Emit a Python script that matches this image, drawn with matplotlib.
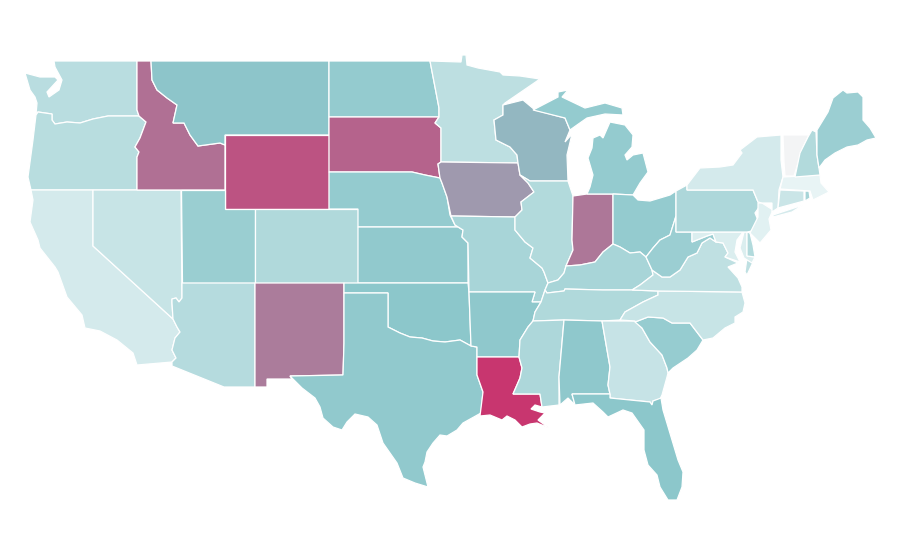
import matplotlib
matplotlib.use("Agg")
import matplotlib.pyplot as plt
from matplotlib.colors import LinearSegmentedColormap, Normalize
from matplotlib.patches import Polygon

# estimated value per state, read from the fill colour (0-100 scale)
states = ["WA", "OR", "CA", "NV", "ID", "MT", "WY", "UT", "CO", "AZ", "NM", "ND",
          "SD", "NE", "KS", "OK", "TX", "MN", "IA", "MO", "AR", "LA", "WI", "IL",
          "IN", "MI", "OH", "KY", "TN", "MS", "AL", "GA", "FL", "SC", "NC", "VA",
          "WV", "MD", "DE", "PA", "NJ", "NY", "CT", "RI", "MA", "VT", "NH", "ME"]
values = [22.5, 23, 12, 17, 76, 41, 87.5, 34.5, 26, 24, 71, 37,
          81, 37, 38, 40, 38, 21, 59, 29, 39, 100, 46.6, 25,
          73, 37, 37, 29, 26, 27, 39, 17.5, 40, 36, 17, 20,
          34, 9, 25, 27, 7, 12, 16, 30, 4, 0, 25, 34]

outlines = {
    "WA": [[(54, 61), (137, 61), (137, 110), (139, 116), (108, 116), (93, 119), (80, 123), (67, 122),
            (55, 124), (52, 120), (52, 114), (38, 112), (36, 115), (37, 103), (35, 97), (30, 90), (25, 73),
            (40, 77), (55, 77), (58, 80), (47, 92), (49, 97), (59, 90), (62, 80), (55, 67)]],
    "OR": [[(36, 115), (38, 112), (52, 114), (52, 120), (55, 124), (67, 122), (80, 123), (93, 119),
            (108, 116), (139, 116), (146, 122), (140, 138), (135, 147), (139, 152), (137, 157), (137, 190),
            (31, 190), (28, 177), (33, 140)]],
    "CA": [[(31, 190), (93, 190), (93, 246), (173, 319), (177, 327), (180, 332), (175, 338), (172, 350),
            (176, 358), (172, 362), (137, 365), (133, 353), (117, 340), (100, 331), (85, 328), (82, 315),
            (67, 297), (58, 272), (55, 267), (40, 248), (38, 240), (30, 222), (33, 200)]],
    "NV": [[(93, 190), (181, 190), (182, 298), (179, 302), (176, 298), (172, 299), (172, 303), (173, 319),
            (93, 246)]],
    "AZ": [[(182, 283), (255, 283), (255, 387), (224, 387), (172, 366), (172, 362), (176, 358), (172, 350),
            (175, 338), (180, 332), (177, 327), (173, 319), (172, 303), (172, 299), (176, 298), (179, 302),
            (182, 298)]],
    "ID": [[(137, 61), (151, 61), (152, 80), (157, 90), (167, 98), (177, 105), (173, 123), (184, 123),
            (190, 135), (198, 146), (220, 143), (225, 145), (225, 190), (137, 190), (137, 157), (139, 152),
            (135, 147), (140, 138), (146, 122), (139, 116), (137, 110)]],
    "MT": [[(151, 61), (329, 61), (329, 135), (225, 135), (225, 145), (220, 143), (198, 146), (190, 135),
            (184, 123), (173, 123), (177, 105), (167, 98), (157, 90), (152, 80)]],
    "WY": [[(225, 135), (329, 135), (329, 209), (225, 209)]],
    "UT": [[(181, 190), (225, 190), (225, 209), (255, 209), (255, 283), (182, 283)]],
    "CO": [[(255, 209), (358, 209), (358, 283), (255, 283)]],
    "NM": [[(255, 283), (344, 283), (344, 343), (343, 375), (290, 376), (292, 379), (267, 379), (267, 387),
            (255, 387)]],
    "ND": [[(329, 61), (430, 61), (435, 87), (439, 108), (439, 117), (329, 117)]],
    "SD": [[(329, 117), (439, 117), (435, 123), (441, 128), (441, 162), (438, 164), (440, 178), (425, 175),
            (412, 172), (329, 172)]],
    "NE": [[(329, 172), (412, 172), (425, 175), (440, 178), (442, 183), (447, 197), (450, 215), (455, 225),
            (458, 227), (358, 227), (358, 209), (329, 209)]],
    "KS": [[(358, 227), (458, 227), (463, 230), (462, 237), (468, 243), (468, 283), (358, 283)]],
    "OK": [[(344, 283), (468, 283), (469, 292), (471, 346), (460, 340), (445, 342), (433, 341), (422, 338),
            (410, 337), (400, 333), (388, 327), (388, 293), (344, 293)]],
    "TX": [[(344, 293), (388, 293), (388, 327), (400, 333), (410, 337), (422, 338), (433, 341), (445, 342),
            (460, 340), (471, 346), (477, 347), (477, 375), (483, 392), (481, 413), (463, 423), (457, 430),
            (447, 436), (440, 435), (433, 443), (427, 452), (425, 462), (423, 467), (428, 487), (415, 483),
            (403, 478), (397, 463), (383, 443), (377, 425), (368, 417), (355, 414), (347, 422), (342, 430),
            (333, 427), (323, 418), (320, 407), (315, 398), (302, 388), (290, 376), (343, 375), (344, 343)]],
    "MN": [[(430, 61), (461, 62), (462, 55), (466, 55), (467, 65), (478, 68), (500, 72), (503, 75), (520, 76),
            (540, 79), (505, 103), (503, 105), (503, 115), (494, 120), (496, 140), (510, 147), (517, 155),
            (518, 163), (441, 162), (441, 128), (435, 123), (439, 117), (439, 108), (435, 87)]],
    "IA": [[(441, 162), (518, 163), (520, 175), (528, 183), (534, 192), (521, 202), (522, 210), (515, 217),
            (451, 216), (447, 197), (442, 183), (440, 178), (438, 164)]],
    "MO": [[(451, 216), (515, 217), (515, 230), (525, 242), (533, 248), (530, 258), (542, 268), (544, 272),
            (548, 283), (545, 290), (541, 302), (532, 302), (535, 292), (469, 292), (468, 243), (462, 237),
            (463, 230), (455, 225)]],
    "AR": [[(469, 292), (535, 292), (532, 302), (541, 302), (535, 312), (533, 321), (528, 327), (520, 340),
            (519, 357), (477, 357), (477, 347), (471, 346)]],
    "LA": [[(477, 357), (519, 357), (522, 368), (520, 378), (513, 394), (540, 394), (542, 407), (535, 405),
            (531, 409), (540, 412), (545, 413), (538, 420), (549, 428), (537, 423), (530, 424), (522, 427),
            (515, 420), (507, 416), (502, 420), (490, 415), (480, 416), (483, 392), (477, 375)]],
    "WI": [[(503, 105), (523, 100), (535, 110), (565, 118), (570, 130), (565, 142), (572, 134), (567, 155),
            (568, 181), (530, 181), (520, 175), (518, 163), (517, 155), (510, 147), (496, 140), (494, 120),
            (503, 115)]],
    "IL": [[(530, 181), (568, 181), (573, 196), (572, 240), (573, 250), (566, 266), (564, 273), (558, 280),
            (548, 283), (544, 272), (542, 268), (530, 258), (533, 248), (525, 242), (515, 230), (515, 217),
            (522, 210), (521, 202), (534, 192), (528, 183), (520, 175)]],
    "IN": [[(573, 196), (587, 194), (613, 194), (613, 244), (603, 252), (595, 262), (580, 265), (566, 266),
            (573, 250), (572, 240)]],
    "MI": [[(587, 194), (613, 194), (633, 195), (640, 183), (648, 172), (643, 153), (633, 155), (627, 160),
            (625, 155), (632, 147), (633, 135), (625, 125), (610, 122), (603, 138), (600, 135), (593, 138),
            (592, 148), (588, 158), (593, 175), (590, 187)],
           [(533, 110), (558, 97), (558, 92), (568, 90), (562, 97), (585, 108), (605, 103), (622, 108),
            (623, 115), (605, 114), (587, 118), (577, 125), (570, 130), (565, 118)]],
    "OH": [[(613, 194), (633, 195), (638, 200), (650, 201), (670, 195), (676, 191), (676, 216), (670, 235),
            (660, 240), (653, 248), (646, 257), (640, 252), (630, 253), (620, 247), (613, 244)]],
    "KY": [[(545, 290), (548, 283), (558, 280), (564, 273), (566, 266), (580, 265), (595, 262), (603, 252),
            (613, 244), (620, 247), (630, 253), (640, 252), (646, 257), (652, 270), (653, 275), (640, 285),
            (632, 290), (603, 290), (565, 289), (564, 291), (547, 293)]],
    "TN": [[(547, 293), (564, 291), (565, 289), (603, 290), (632, 290), (658, 291), (658, 295), (643, 302),
            (625, 312), (620, 320), (602, 321), (564, 320), (533, 321), (535, 312), (541, 302), (545, 290)]],
    "MS": [[(533, 321), (564, 320), (559, 377), (559, 405), (542, 407), (540, 394), (513, 394), (520, 378),
            (522, 368), (519, 357), (520, 340), (528, 327)]],
    "AL": [[(564, 320), (602, 321), (610, 367), (608, 385), (610, 394), (572, 394), (575, 405), (568, 398),
            (560, 405), (559, 377)]],
    "GA": [[(602, 321), (635, 321), (642, 328), (650, 342), (662, 355), (667, 368), (668, 373), (667, 377),
            (662, 395), (660, 399), (653, 401), (652, 405), (650, 402), (610, 398), (610, 394), (608, 385),
            (610, 367)]],
    "FL": [[(572, 394), (610, 394), (610, 398), (650, 402), (652, 405), (653, 401), (661, 398), (663, 410),
            (672, 440), (678, 460), (683, 472), (682, 487), (677, 500), (668, 500), (660, 487), (657, 475),
            (648, 465), (644, 450), (644, 430), (632, 413), (623, 410), (608, 417), (603, 412), (593, 403),
            (575, 405)]],
    "SC": [[(635, 322), (648, 317), (663, 318), (672, 323), (690, 323), (703, 340), (697, 350), (688, 358),
            (673, 368), (668, 373), (667, 368), (662, 355), (650, 342), (642, 328)]],
    "NC": [[(658, 291), (742, 292), (745, 303), (743, 312), (735, 317), (735, 323), (725, 328), (713, 338),
            (703, 340), (690, 323), (672, 323), (663, 318), (648, 317), (635, 322), (635, 321), (620, 320),
            (625, 312), (643, 302), (658, 295)]],
    "VA": [[(632, 290), (640, 285), (653, 275), (652, 270), (662, 277), (670, 277), (680, 270), (688, 257),
            (697, 253), (702, 243), (710, 238), (716, 242), (723, 243), (728, 253), (725, 257), (738, 263),
            (728, 267), (738, 278), (742, 287), (742, 292), (658, 291)],
           [(747, 258), (755, 258), (747, 275), (745, 272)]],
    "WV": [[(676, 216), (676, 232), (692, 232), (692, 242), (707, 236), (713, 234), (716, 242), (710, 238),
            (702, 243), (697, 253), (688, 257), (680, 270), (670, 277), (662, 277), (652, 270), (646, 257),
            (653, 248), (660, 240), (670, 235)]],
    "MD": [[(692, 232), (743, 232), (737, 240), (735, 252), (740, 262), (725, 257), (728, 253), (723, 243),
            (716, 242), (713, 234), (707, 236), (692, 242)],
           [(744, 232), (747, 232), (747, 256), (755, 257), (752, 263), (744, 258), (740, 248)]],
    "DE": [[(747, 232), (750, 233), (753, 245), (755, 257), (747, 256)]],
    "PA": [[(676, 191), (687, 185), (687, 190), (753, 190), (758, 202), (762, 203), (755, 213), (760, 225),
            (757, 230), (747, 232), (676, 232)]],
    "NJ": [[(758, 203), (762, 203), (773, 210), (769, 219), (771, 230), (760, 243), (750, 233), (753, 227),
            (758, 217)]],
    "NY": [[(687, 185), (700, 168), (720, 167), (733, 165), (742, 153), (740, 150), (757, 137), (781, 135),
            (781, 160), (783, 177), (779, 190), (778, 208), (772, 212), (772, 203), (762, 203), (758, 202),
            (753, 190), (687, 190)],
           [(773, 215), (803, 205), (792, 212), (773, 217)]],
    "CT": [[(780, 190), (804, 191), (804, 201), (778, 208)]],
    "RI": [[(805, 191), (809, 191), (810, 198), (805, 201)]],
    "MA": [[(783, 177), (820, 175), (821, 183), (829, 192), (813, 200), (810, 191), (780, 189)]],
    "VT": [[(783, 135), (809, 135), (803, 147), (794, 176), (785, 176), (784, 162)]],
    "NH": [[(812, 130), (816, 132), (817, 155), (819, 168), (820, 175), (795, 177), (800, 153), (808, 137)]],
    "ME": [[(817, 130), (828, 112), (833, 98), (843, 90), (847, 93), (858, 92), (863, 97), (863, 120),
            (870, 128), (876, 138), (867, 140), (858, 145), (847, 147), (835, 153), (825, 160), (819, 168),
            (817, 155)]],
}

cmap = LinearSegmentedColormap.from_list(
    "teal_pink", [(0.0, "#f3f4f5"), (0.04, "#e8f4f5"), (0.4, "#8cc7cb"), (1.0, "#c8366f")])
norm = Normalize(0, 100)

fig = plt.figure(figsize=(9, 5.6), dpi=100)
ax = fig.add_axes([0, 0, 1, 1])

for state, value in zip(states, values):
    for ring in outlines[state]:
        ax.add_patch(Polygon(ring, closed=True, facecolor=cmap(norm(value)),
                             edgecolor="white", linewidth=0.9))

ax.set_xlim(0, 900)
ax.set_ylim(560, 0)
ax.axis("off")

fig.savefig("out.png", dpi=100, facecolor="white")
